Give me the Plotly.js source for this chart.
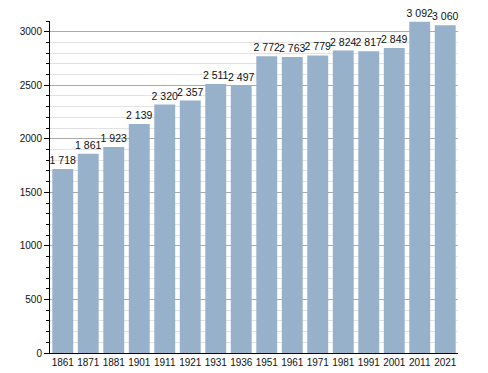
<!DOCTYPE html>
<html><head><meta charset="utf-8">
<script src="https://cdn.plot.ly/plotly-3.0.1.min.js"></script>
<style>body{margin:0;background:#fff}#c{width:488px;height:373px}</style>
</head><body><div id="c"></div>
<script>
var years = ["1861","1871","1881","1901","1911","1921","1931","1936","1951","1961","1971","1981","1991","2001","2011","2021"];
var population = [1718,1861,1923,2139,2320,2357,2511,2497,2772,2763,2779,2824,2817,2849,3092,3060];
var yTicks = [0,500,1000,1500,2000,2500,3000];

function fmt(v){var s=String(v);return s.length>3? s.slice(0,s.length-3)+' '+s.slice(-3): s;}
var labels = population.map(fmt);

var trace = {
  type:'bar', x:years, y:population, text:labels, textposition:'outside',
  constraintext:'none', cliponaxis:false,
  textfont:{family:'Liberation Sans, Arial, sans-serif', size:10.5, color:'#111'},
  marker:{color:'#98b1cb'}, hoverinfo:'none'
};
var layout = {
  width:488, height:373, margin:{l:50,r:30,t:21,b:20},
  paper_bgcolor:'#fff', plot_bgcolor:'#fff', showlegend:false, bargap:0.18,
  font:{family:'Liberation Sans, Arial, sans-serif', size:10, color:'#222'},
  xaxis:{type:'category', showline:true, linecolor:'#000', linewidth:1, ticks:'', showgrid:false, tickangle:0,
         tickfont:{size:10,color:'#111'}, automargin:false},
  yaxis:{range:[0,3100], tickvals:yTicks, ticktext:yTicks.map(String), showline:true, linecolor:'#000', linewidth:1,
         ticks:'outside', ticklen:5, tickcolor:'#000', gridcolor:'#aaaaaa', gridwidth:1, zeroline:false,
         minor:{dtick:100, ticks:'outside', ticklen:3, tickcolor:'#000', showgrid:true, gridcolor:'#e2e2e2', gridwidth:1},
         tickfont:{size:10,color:'#111'}, automargin:false}
};
Plotly.newPlot('c',[trace],layout,{staticPlot:true});
</script></body></html>
